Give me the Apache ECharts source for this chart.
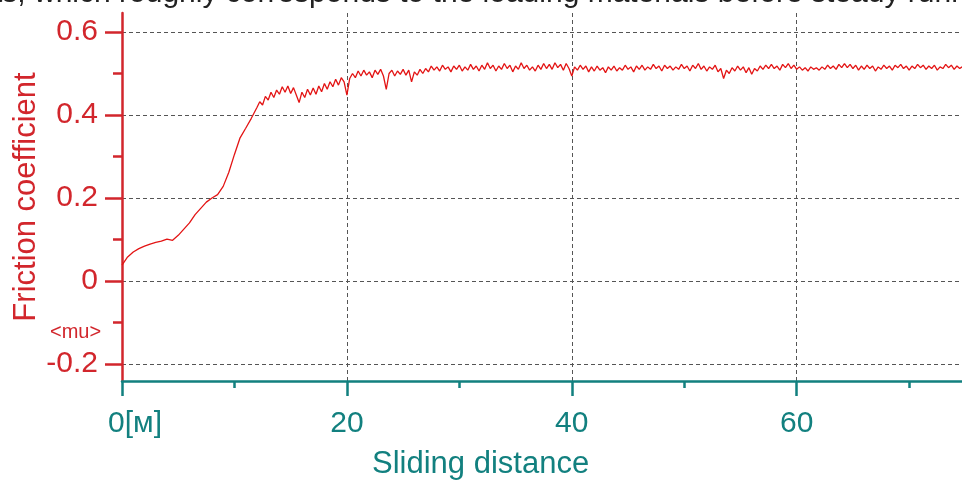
<!DOCTYPE html>
<html>
<head>
<meta charset="utf-8">
<script src="https://cdn.jsdelivr.net/npm/echarts@6/dist/echarts.min.js"></script>
<style>
  html, body { margin: 0; padding: 0; background: #fff; }
  #chart { width: 962px; height: 482px; }
</style>
</head>
<body>
<div id="chart"></div>
<script>
// sliding distance [m]
const distance = [
  0, 0.5, 1, 1.5, 2, 2.5, 3, 3.5, 4, 4.5, 5, 5.5, 6, 6.5, 7, 7.5, 8, 8.5, 9, 9.5, 10, 10.5, 11, 11.5,
  12, 12.25, 12.5, 12.75, 13, 13.25, 13.5, 13.75, 14, 14.25, 14.5, 14.75, 15, 15.25, 15.5, 15.75, 16, 16.25, 16.5, 16.75,
  17, 17.25, 17.5, 17.75, 18, 18.25, 18.5, 18.75, 19, 19.25, 19.5, 19.75, 20, 20.25, 20.5, 20.75, 21, 21.25, 21.5, 21.75,
  22, 22.25, 22.5, 22.75, 23, 23.25, 23.5, 23.75, 24, 24.25, 24.5, 24.75, 25, 25.25, 25.5, 25.75, 26, 26.25, 26.5, 26.75,
  27, 27.25, 27.5, 27.75, 28, 28.25, 28.5, 28.75, 29, 29.25, 29.5, 29.75, 30, 30.25, 30.5, 30.75, 31, 31.25, 31.5, 31.75,
  32, 32.25, 32.5, 32.75, 33, 33.25, 33.5, 33.75, 34, 34.25, 34.5, 34.75, 35, 35.25, 35.5, 35.75, 36, 36.25, 36.5, 36.75,
  37, 37.25, 37.5, 37.75, 38, 38.25, 38.5, 38.75, 39, 39.25, 39.5, 39.75, 40, 40.25, 40.5, 40.75, 41, 41.25, 41.5, 41.75,
  42, 42.25, 42.5, 42.75, 43, 43.25, 43.5, 43.75, 44, 44.25, 44.5, 44.75, 45, 45.25, 45.5, 45.75, 46, 46.25, 46.5, 46.75,
  47, 47.25, 47.5, 47.75, 48, 48.25, 48.5, 48.75, 49, 49.25, 49.5, 49.75, 50, 50.25, 50.5, 50.75, 51, 51.25, 51.5, 51.75,
  52, 52.25, 52.5, 52.75, 53, 53.25, 53.5, 53.75, 54, 54.25, 54.5, 54.75, 55, 55.25, 55.5, 55.75, 56, 56.25, 56.5, 56.75,
  57, 57.25, 57.5, 57.75, 58, 58.25, 58.5, 58.75, 59, 59.25, 59.5, 59.75, 60, 60.25, 60.5, 60.75, 61, 61.25, 61.5, 61.75,
  62, 62.25, 62.5, 62.75, 63, 63.25, 63.5, 63.75, 64, 64.25, 64.5, 64.75, 65, 65.25, 65.5, 65.75, 66, 66.25, 66.5, 66.75,
  67, 67.25, 67.5, 67.75, 68, 68.25, 68.5, 68.75, 69, 69.25, 69.5, 69.75, 70, 70.25, 70.5, 70.75, 71, 71.25, 71.5, 71.75,
  72, 72.25, 72.5, 72.75, 73, 73.25, 73.5, 73.75, 74, 74.25, 74.5, 74.7
];
// friction coefficient <mu>
const mu = [
  0.038, 0.058, 0.070, 0.078, 0.084, 0.089, 0.093, 0.096, 0.101, 0.098, 0.110, 0.125, 0.140, 0.160, 0.175, 0.190, 0.200, 0.208, 0.228, 0.262, 0.305, 0.345, 0.368, 0.392,
  0.418, 0.432, 0.424, 0.445, 0.436, 0.455, 0.442, 0.460, 0.450, 0.468, 0.455, 0.470, 0.452, 0.466, 0.448, 0.430, 0.455, 0.442, 0.462, 0.448,
  0.465, 0.450, 0.470, 0.456, 0.476, 0.462, 0.480, 0.468, 0.486, 0.472, 0.490, 0.480, 0.448, 0.488, 0.500, 0.490, 0.506, 0.494, 0.508, 0.496,
  0.504, 0.490, 0.508, 0.498, 0.510, 0.494, 0.462, 0.500, 0.508, 0.494, 0.506, 0.498, 0.510, 0.496, 0.508, 0.480, 0.504, 0.496, 0.510, 0.500,
  0.512, 0.504, 0.518, 0.508, 0.516, 0.506, 0.520, 0.510, 0.516, 0.504, 0.518, 0.510, 0.520, 0.506, 0.516, 0.508, 0.522, 0.510, 0.518, 0.506,
  0.520, 0.510, 0.526, 0.512, 0.520, 0.506, 0.518, 0.510, 0.524, 0.512, 0.520, 0.504, 0.518, 0.510, 0.526, 0.512, 0.520, 0.508, 0.516, 0.506,
  0.520, 0.510, 0.524, 0.512, 0.522, 0.510, 0.526, 0.514, 0.522, 0.508, 0.524, 0.512, 0.494, 0.516, 0.508, 0.520, 0.510, 0.518, 0.504, 0.516,
  0.506, 0.518, 0.508, 0.514, 0.502, 0.516, 0.508, 0.518, 0.506, 0.514, 0.508, 0.520, 0.510, 0.516, 0.504, 0.518, 0.510, 0.520, 0.508, 0.516,
  0.510, 0.522, 0.512, 0.518, 0.506, 0.520, 0.512, 0.518, 0.508, 0.516, 0.510, 0.522, 0.512, 0.518, 0.506, 0.520, 0.512, 0.524, 0.510, 0.518,
  0.506, 0.516, 0.510, 0.520, 0.504, 0.512, 0.488, 0.508, 0.500, 0.514, 0.506, 0.518, 0.508, 0.516, 0.502, 0.514, 0.498, 0.512, 0.506, 0.518,
  0.510, 0.520, 0.512, 0.522, 0.512, 0.518, 0.508, 0.522, 0.514, 0.524, 0.512, 0.520, 0.510, 0.516, 0.508, 0.514, 0.506, 0.516, 0.510, 0.514,
  0.508, 0.516, 0.510, 0.520, 0.512, 0.518, 0.510, 0.522, 0.514, 0.524, 0.514, 0.522, 0.512, 0.520, 0.508, 0.518, 0.510, 0.520, 0.512, 0.518,
  0.506, 0.516, 0.510, 0.520, 0.512, 0.518, 0.508, 0.520, 0.514, 0.522, 0.512, 0.518, 0.508, 0.518, 0.512, 0.522, 0.514, 0.520, 0.510, 0.518,
  0.512, 0.520, 0.508, 0.516, 0.512, 0.522, 0.514, 0.520, 0.510, 0.518, 0.512, 0.516
];
const yMajorTicks = [-0.2, 0, 0.2, 0.4, 0.6];
const yMinorTicks = [-0.1, 0.1, 0.3, 0.5];
const xMajorTicks = [0, 20, 40, 60];
const xMinorTicks = [10, 30, 50, 70];

const RED = '#d2262c';
const TEAL = '#12807f';
const FONT = 'Liberation Sans, Arial, sans-serif';
const Y_MIN = -0.241, Y_MAX = 0.6458;
const X_MIN = 0, X_MAX = 74.7;

const chart = echarts.init(document.getElementById('chart'));

const gridDash = { color: '#555', width: 1, type: [4, 3] };

chart.setOption({
  backgroundColor: '#fff',
  animation: false,
  grid: { left: 122, right: 0, top: 13, bottom: 101, containLabel: false, outerBoundsMode: 'none' },
  xAxis: [
    {
      type: 'value', min: X_MIN, max: X_MAX, position: 'bottom',
      axisLine: { onZero: false, lineStyle: { color: TEAL, width: 2.5 } },
      axisTick: { customValues: xMajorTicks, length: 15, lineStyle: { color: TEAL, width: 2.5 } },
      axisLabel: {
        customValues: xMajorTicks, margin: 28, color: TEAL, fontSize: 30, fontFamily: FONT,
        formatter: v => v === 0 ? '{z|0[м]}' : String(v),
        rich: { z: { color: TEAL, fontSize: 30, fontFamily: FONT, padding: [0, 0, 0, 26] } }
      },
      splitLine: { show: true, lineStyle: gridDash }
    },
    {
      type: 'value', min: X_MIN, max: X_MAX, position: 'bottom',
      axisLine: { show: false, onZero: false },
      axisTick: { customValues: xMinorTicks, length: 7, lineStyle: { color: TEAL, width: 2.5 } },
      axisLabel: { show: false },
      splitLine: { show: false }
    }
  ],
  yAxis: [
    {
      type: 'value', min: Y_MIN, max: Y_MAX, position: 'left',
      name: 'Friction coefficient', nameLocation: 'middle', nameGap: 80, nameMoveOverlap: false,
      nameTextStyle: { color: RED, fontSize: 31, fontFamily: FONT },
      axisLine: { show: true, onZero: false, lineStyle: { color: RED, width: 2.5 } },
      axisTick: { show: true, customValues: yMajorTicks, length: 17, lineStyle: { color: RED, width: 2.5 } },
      axisLabel: { customValues: yMajorTicks, margin: 24, color: RED, fontSize: 30, fontFamily: FONT },
      splitLine: { show: true, lineStyle: gridDash }
    },
    {
      type: 'value', min: Y_MIN, max: Y_MAX, position: 'left',
      axisLine: { show: false, onZero: false },
      axisTick: { show: true, customValues: yMinorTicks, length: 9, lineStyle: { color: RED, width: 2.5 } },
      axisLabel: { show: false },
      splitLine: { show: false }
    }
  ],
  graphic: [
    {
      type: 'text', left: 50, top: 322,
      style: { text: '<mu>', fill: RED, font: '20px ' + FONT }
    },
    {
      type: 'text', left: 372, top: 449,
      style: { text: 'Sliding distance', fill: TEAL, font: '31px ' + FONT }
    },
    {
      type: 'text', left: -6, top: -21,
      style: { text: 'ts, which roughly corresponds to the loading materials before steady running stage change',
               fill: '#222', font: '30px ' + FONT }
    }
  ],
  series: [{
    type: 'line',
    xAxisIndex: 0, yAxisIndex: 0,
    data: distance.map((d, i) => [d, mu[i]]),
    showSymbol: false,
    lineStyle: { color: '#e31414', width: 1.3 },
    z: 5
  }]
});
</script>
</body>
</html>
